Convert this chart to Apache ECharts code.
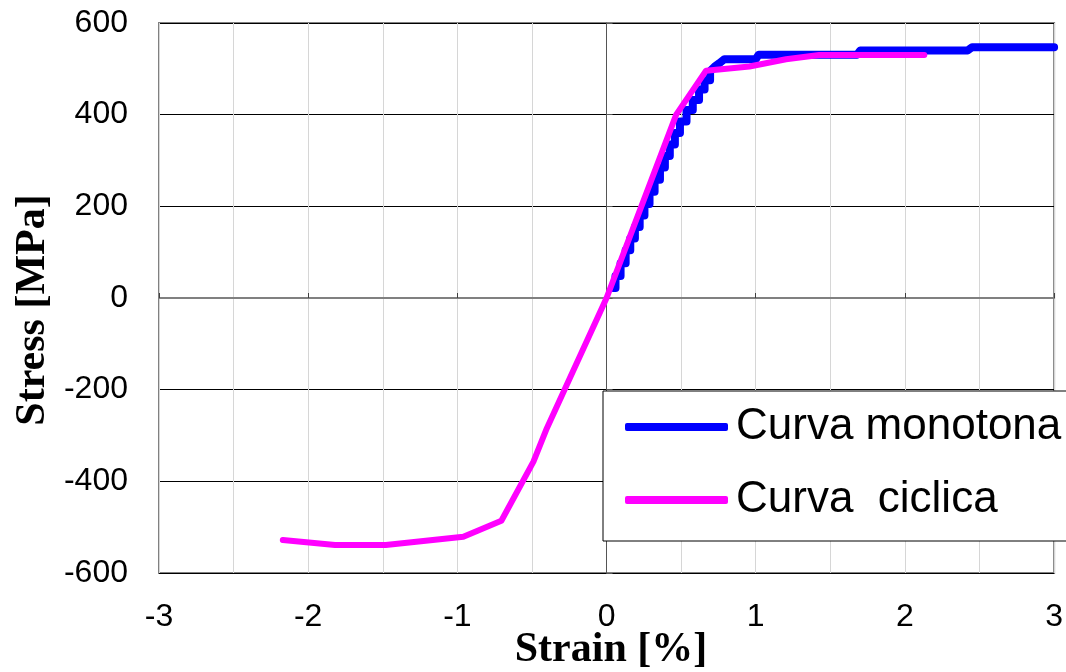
<!DOCTYPE html>
<html>
<head>
<meta charset="utf-8">
<script src="https://cdn.jsdelivr.net/npm/echarts@6/dist/echarts.min.js"></script>
<style>
  html, body { margin: 0; padding: 0; background: #fff; }
  #chart { width: 1066px; height: 672px; }
</style>
</head>
<body>
<div id="chart"></div>
<script>
// monotonic curve (stair-stepped test record)
var strainMono = [0.045, 0.060, 0.060, 0.094, 0.094, 0.128, 0.128, 0.159, 0.159, 0.190, 0.190, 0.222, 0.222, 0.254, 0.254, 0.288, 0.288, 0.322, 0.322, 0.358, 0.358, 0.391, 0.391, 0.424, 0.424, 0.458, 0.458, 0.492, 0.492, 0.536, 0.536, 0.578, 0.578, 0.620, 0.620, 0.657, 0.657, 0.694, 0.694, 0.725, 0.755, 0.79, 1.00, 1.02, 1.68, 1.70, 2.42, 2.45, 3.0]
var stressMono = [22, 22, 48, 48, 76, 76, 104, 104, 130, 130, 155, 155, 180, 180, 205, 205, 232, 232, 258, 258, 285, 285, 310, 310, 335, 335, 360, 360, 385, 385, 410, 410, 432, 432, 455, 455, 475, 475, 495, 505, 512, 521, 521, 531, 531, 540, 540, 547, 547]

// cyclic curve
var strainCyc = [-2.17, -1.82, -1.48, -0.96, -0.705, -0.49, -0.40, 0, 0.467, 0.667, 0.958, 1.203, 1.426, 2.13]
var stressCyc = [-528, -539, -539, -521, -486, -357, -284, 0, 400, 496, 505, 521, 530, 530]

var seriesNames = ['Curva monotona', 'Curva  ciclica']
var xTicks = [-3, -2, -1, 0, 1, 2, 3]
var yTicks = [-600, -400, -200, 0, 200, 400, 600]

function zip(xs, ys) {
  var out = []
  for (var i = 0; i < xs.length; i++) out.push([xs[i], ys[i]])
  return out
}

var chart = echarts.init(document.getElementById('chart'), null, { renderer: 'canvas' })

var sansFont = '"Liberation Sans", Arial, sans-serif'
var serifFont = '"Liberation Serif", "Times New Roman", serif'

chart.setOption({
  animation: false,
  backgroundColor: '#fff',
  grid: {
    left: 159, right: 11, top: 23, bottom: 99,
    show: true, borderColor: '#808080', borderWidth: 2, backgroundColor: '#fff'
  },
  xAxis: [{
    // labels + light vertical grid
    type: 'value', min: xTicks[0], max: xTicks[xTicks.length - 1], interval: 0.5,
    position: 'bottom',
    axisLine: { show: false, onZero: false },
    axisTick: { show: false },
    axisLabel: {
      fontSize: 32, color: '#000', fontFamily: sansFont, margin: 28,
      formatter: function (v) { return xTicks.indexOf(v) >= 0 ? String(v) : '' }
    },
    splitLine: { show: true, lineStyle: { color: '#d6d6d6', width: 1 } }
  }, {
    // axis line through y = 0
    type: 'value', min: xTicks[0], max: xTicks[xTicks.length - 1], interval: 1,
    position: 'bottom',
    axisLine: { show: true, onZero: true, lineStyle: { color: '#808080', width: 2 } },
    axisTick: { show: true, inside: true, length: 5, lineStyle: { color: '#404040', width: 1 } },
    axisLabel: { show: false },
    splitLine: { show: false }
  }],
  yAxis: [{
    type: 'value', min: yTicks[0], max: yTicks[yTicks.length - 1], interval: 200,
    position: 'left',
    axisLine: { show: false, onZero: false },
    axisTick: { show: false },
    axisLabel: { fontSize: 32, color: '#000', fontFamily: sansFont, margin: 31 },
    splitLine: { show: true, lineStyle: { color: '#000', width: 1 } }
  }, {
    // axis line through x = 0
    type: 'value', min: yTicks[0], max: yTicks[yTicks.length - 1], interval: 200,
    position: 'left',
    axisLine: { show: true, onZero: true, lineStyle: { color: '#555', width: 1 } },
    axisTick: { show: true, inside: true, length: 6, lineStyle: { color: '#555', width: 1 } },
    axisLabel: { show: false },
    splitLine: { show: false }
  }],
  legend: {
    left: 603, top: 391, orient: 'vertical',
    selectedMode: false,
    backgroundColor: '#fff', borderColor: '#000', borderWidth: 1,
    padding: [11, 30, 16, 22],
    itemWidth: 103, itemHeight: 8, itemGap: 23,
    icon: 'roundRect',
    textStyle: { fontSize: 44, lineHeight: 50, color: '#000', fontFamily: sansFont, padding: [0, 0, 0, 3] },
    data: seriesNames
  },
  graphic: [{
    type: 'text', x: 611, y: 650,
    style: { text: 'Strain [%]', font: 'bold 42px ' + serifFont, fill: '#000', align: 'center', verticalAlign: 'middle' }
  }, {
    type: 'text', x: 33, y: 310, rotation: Math.PI / 2,
    style: { text: 'Stress [MPa]', font: 'bold 42px ' + serifFont, fill: '#000', align: 'center', verticalAlign: 'middle' }
  }],
  series: [{
    name: seriesNames[0], type: 'line', xAxisIndex: 0, yAxisIndex: 0,
    data: zip(strainMono, stressMono),
    symbol: 'none', z: 3,
    itemStyle: { color: '#0000ff' },
    lineStyle: { color: '#0000ff', width: 8, cap: 'round', join: 'round' }
  }, {
    name: seriesNames[1], type: 'line', xAxisIndex: 0, yAxisIndex: 0,
    data: zip(strainCyc, stressCyc),
    symbol: 'none', z: 4,
    itemStyle: { color: '#ff00ff' },
    lineStyle: { color: '#ff00ff', width: 6, cap: 'round', join: 'round' }
  }]
})
</script>
</body>
</html>
